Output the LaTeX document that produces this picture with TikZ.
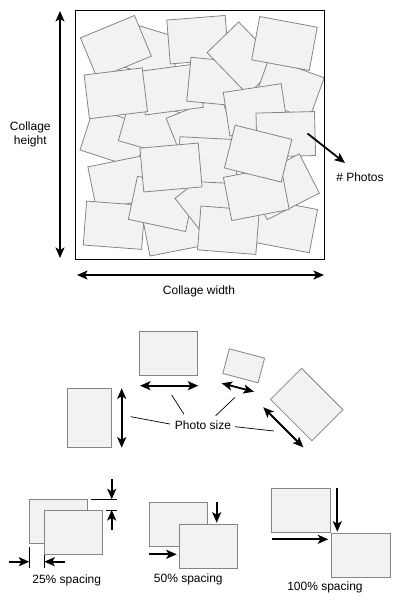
\documentclass[tikz,border=0pt]{standalone}
\usepackage{fontspec}
\setmainfont{Liberation Sans}
\usetikzlibrary{arrows.meta}
\definecolor{pfill}{HTML}{F2F2F2}
\definecolor{pedge}{HTML}{858585}
\begin{document}
\begin{tikzpicture}[x=1pt,y=-1pt,
  photo/.style={draw=pedge, fill=pfill, line width=0.8pt, minimum width=58.5pt, minimum height=44pt, inner sep=0pt, outer sep=0pt},
  arr/.style={line width=1.8pt, -{Stealth[length=10.5pt,width=9pt,inset=2.5pt]}},
  dbl/.style={line width=1.8pt, {Stealth[length=10.5pt,width=9pt,inset=2.5pt]}-{Stealth[length=10.5pt,width=9pt,inset=2.5pt]}},
  leader/.style={line width=0.7pt},
  tickline/.style={line width=0.8pt},
  lbl/.style={font=\fontsize{12}{14.5}\selectfont, inner sep=0pt, align=center}
]
\useasboundingbox (0,0) rectangle (400,600);

% ---------- collage photos (back to front) ----------
\foreach \n/\x/\y/\a in {
  r1/148.5/51.6/-17, pa/115.9/47/22.5, pb/197.7/39.7/4.5,
  pv/114.6/138.1/-18, pw/152.5/127.6/-16, px/201.5/127.75/22,
  pc2/171.5/89.3/7.5, pc/115.8/93.3/7, ph/218/82/-5.5, pd/243.2/58.3/-46,
  pf/289.2/88.5/-20, pe/284.5/43.5/-10.5, pg/255.5/109.8/8.6,
  pi/285.8/134.3/1.5,
  pr/120.9/182.6/11.5, pt/114.1/225.25/-4.3, pu/174.5/228.8/11,
  ps/161.5/203.9/-12, po/211.6/197.65/38, pq/208/160.2/-3, pp/171/167.5/5,
  pm/284.7/225.7/-10.7, pk/283.3/186.8/27, pn/228.4/230.2/-4.5,
  pl/256.3/193.4/11, pj/258.15/153.65/-14}
  \node[photo, rotate=\a] (\n) at (\x,\y) {};

\node[draw, line width=1pt, minimum width=248.6pt, minimum height=249pt, inner sep=0pt] (frame) at (200,134.5) {};

% collage dimension arrows
\coordinate (h1) at (60,11);
\coordinate (h2) at (60,258);
\draw[dbl] (h1) -- (h2);
\coordinate (w1) at (77,275);
\coordinate (w2) at (324,275);
\draw[dbl] (w1) -- (w2);
\node[lbl] (hlabel) at (30.3,134.3) {Collage\\height};
\node[lbl] (wlabel) at (199,291) {Collage width};
\node[lbl] (nlabel) at (360,177) {\# Photos};
\coordinate (n1) at (307.5,133.5);
\coordinate (n2) at (345,163);
\draw[arr] (n1) -- (n2);

% ---------- photo size ----------
\node[photo, minimum width=44.3pt, minimum height=59.3pt, anchor=north west] (sz1) at (67.3,388.3) {};
\node[photo, anchor=north west] (sz2) at (139.3,331.7) {};
\node[photo, minimum width=36.5pt, minimum height=25.5pt, rotate=-14.8] (sz3) at (243.7,365.8) {};
\node[photo, rotate=-45] (sz4) at (306.7,404.5) {};

\coordinate (a1s) at (121.7,388.3);
\coordinate (a1e) at (121.7,447.7);
\draw[dbl] (a1s) -- (a1e);
\coordinate (a2s) at (140,385.7);
\coordinate (a2e) at (198.3,385.7);
\draw[dbl] (a2s) -- (a2e);
\coordinate (a3s) at (221.7,383.3);
\coordinate (a3e) at (254,391.7);
\draw[dbl] (a3s) -- (a3e);
\coordinate (a4s) at (263.3,407.3);
\coordinate (a4e) at (303.3,447.3);
\draw[dbl] (a4s) -- (a4e);

\node[lbl] (psize) at (203,425) {Photo size};
\coordinate (l1a) at (130.7,416.7);
\coordinate (l1b) at (170,424);
\coordinate (l2a) at (171.7,395);
\coordinate (l2b) at (184,414.3);
\coordinate (l3a) at (235,397.3);
\coordinate (l3b) at (215.7,415.7);
\coordinate (l4a) at (235,426.7);
\coordinate (l4b) at (274,431);
\draw[leader] (l1a) -- (l1b);
\draw[leader] (l2a) -- (l2b);
\draw[leader] (l3a) -- (l3b);
\draw[leader] (l4a) -- (l4b);

% ---------- 25% spacing ----------
\node[photo, anchor=north west] (q1a) at (29.3,499.3) {};
\node[photo, anchor=north west] (q1b) at (44.3,510) {};
\coordinate (t1a) at (29.3,546.7);
\coordinate (t1b) at (29.3,568.3);
\coordinate (t2a) at (44.3,555);
\coordinate (t2b) at (44.3,568.3);
\draw[tickline] (t1a) -- (t1b);
\draw[tickline] (t2a) -- (t2b);
\coordinate (x1s) at (9.3,561.7);
\coordinate (x1e) at (29.3,561.7);
\coordinate (x2s) at (65,561.7);
\coordinate (x2e) at (44.3,561.7);
\draw[arr] (x1s) -- (x1e);
\draw[arr] (x2s) -- (x2e);
\coordinate (t3a) at (90.7,499.3);
\coordinate (t3b) at (116.7,499.3);
\coordinate (t4a) at (106,510);
\coordinate (t4b) at (116.7,510);
\draw[tickline] (t3a) -- (t3b);
\draw[tickline] (t4a) -- (t4b);
\coordinate (y1s) at (111.7,479.3);
\coordinate (y1e) at (111.7,499.3);
\coordinate (y2s) at (111.7,530);
\coordinate (y2e) at (111.7,510);
\draw[arr] (y1s) -- (y1e);
\draw[arr] (y2s) -- (y2e);
\node[lbl] (sp25) at (66.7,580) {25\% spacing};

% ---------- 50% spacing ----------
\node[photo, anchor=north west] (q2a) at (149.3,502.3) {};
\node[photo, anchor=north west] (q2b) at (179.3,524.3) {};
\coordinate (y3s) at (216.7,502.3);
\coordinate (y3e) at (216.7,522.7);
\draw[arr] (y3s) -- (y3e);
\coordinate (x3s) at (149.3,554.3);
\coordinate (x3e) at (176.7,554.3);
\draw[arr] (x3s) -- (x3e);
\node[lbl] (sp50) at (188.3,579) {50\% spacing};

% ---------- 100% spacing ----------
\node[photo, anchor=north west] (q3a) at (271.7,488.3) {};
\node[photo, anchor=north west] (q3b) at (331.7,533.3) {};
\coordinate (y4s) at (337.3,488.3);
\coordinate (y4e) at (337.3,531.7);
\draw[arr] (y4s) -- (y4e);
\coordinate (x4s) at (271.7,539.3);
\coordinate (x4e) at (328.3,539.3);
\draw[arr] (x4s) -- (x4e);
\node[lbl] (sp100) at (325,587.3) {100\% spacing};
\end{tikzpicture}
\end{document}
